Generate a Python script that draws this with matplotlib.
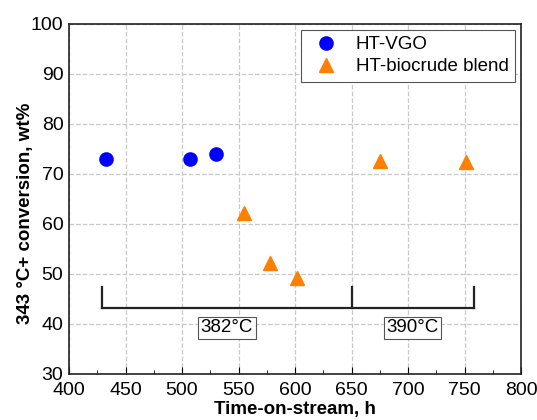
import matplotlib
matplotlib.use("Agg")
import matplotlib.pyplot as plt
from matplotlib.ticker import MultipleLocator

plt.rcParams['font.family'] = ['Liberation Sans', 'DejaVu Sans']

# data
vgo_t = [433, 507, 530]
vgo_conv = [73.0, 73.0, 74.0]
bio_t = [555, 578, 602, 675, 751]
bio_conv = [62.2, 52.2, 49.3, 72.6, 72.4]

# temperature periods (start, end, label)
bracket_x = [429, 650, 758]
period_labels = ["382°C", "390°C"]
bracket_y = 43.3
bracket_top = 47.4

fig = plt.figure(figsize=(5.37, 4.2), dpi=100)
ax = fig.add_axes([69 / 537, 46 / 420, 452 / 537, 350 / 420])

ax.plot(vgo_t, vgo_conv, 'o', color='#0000ff', markersize=9.5, label='HT-VGO', linestyle='none')
ax.plot(bio_t, bio_conv, '^', color='#ff7f00', markersize=10, label='HT-biocrude blend', linestyle='none')

# bracket showing the temperature periods
ax.plot([bracket_x[0], bracket_x[-1]], [bracket_y, bracket_y], color='#222222', lw=1.6)
for bx in bracket_x:
    ax.plot([bx, bx], [bracket_y, bracket_top], color='#222222', lw=1.6)
for i, lab in enumerate(period_labels):
    cx = (bracket_x[i] + bracket_x[i + 1]) / 2
    ax.text(cx, 39.2, lab, ha='center', va='center', fontsize=13.5,
            bbox=dict(boxstyle='square,pad=0.15', fc='white', ec='#555555', lw=0.8))

ax.set_xlim(400, 800)
ax.set_ylim(30, 100)
ax.xaxis.set_major_locator(MultipleLocator(50))
ax.xaxis.set_minor_locator(MultipleLocator(25))
ax.yaxis.set_major_locator(MultipleLocator(10))
ax.tick_params(which='both', direction='in', labelsize=14)
ax.tick_params(which='major', length=5)
ax.tick_params(which='minor', length=3)
ax.tick_params(axis='x', which='major', pad=6)
ax.tick_params(axis='y', which='major', length=0, pad=4)
ax.grid(True, which='major', linestyle='--', color='#c8c8c8', lw=0.9)
ax.set_axisbelow(True)
for s in ax.spines.values():
    s.set_linewidth(1.2)
    s.set_color('#222222')

ax.set_xlabel('Time-on-stream, h', fontsize=13.5, fontweight='bold', labelpad=1)
ax.set_ylabel('343 °C+ conversion, wt%', fontsize=13.5, fontweight='bold')
ax.yaxis.set_label_coords(-0.078, 0.46)

leg = ax.legend(loc='upper right', fontsize=13.5, fancybox=False, framealpha=1,
                edgecolor='#555555', borderpad=0.35, handletextpad=0.6, labelspacing=0.25,
                borderaxespad=0.3)
leg.get_frame().set_linewidth(0.8)

fig.savefig('out.png', dpi=100)
